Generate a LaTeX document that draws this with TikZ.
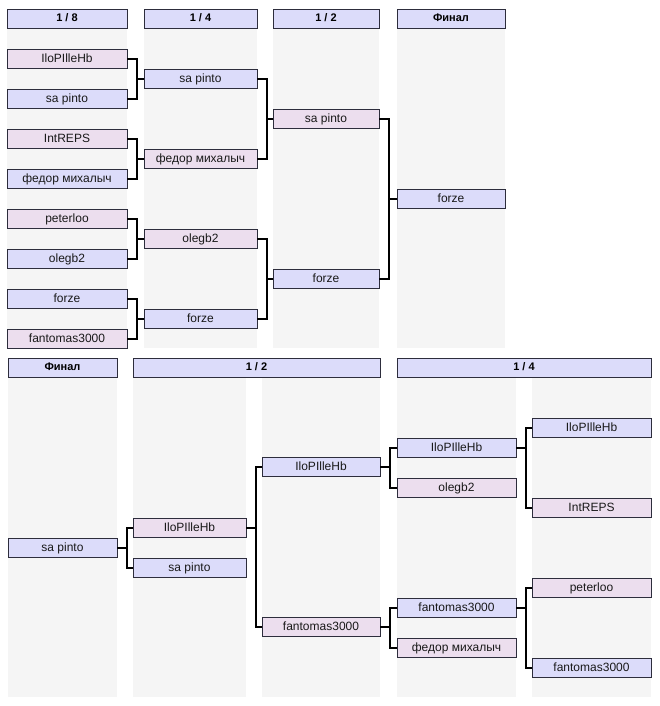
\documentclass[tikz,border=0pt]{standalone}
\usepackage{fontspec}
\setmainfont{Liberation Sans}
\definecolor{boxblue}{RGB}{220,220,250}
\definecolor{boxpink}{RGB}{236,222,238}
\definecolor{colbg}{RGB}{245,245,245}
\definecolor{edge}{RGB}{45,45,60}
\tikzset{
  cell/.style={draw=edge, line width=0.8pt, inner sep=0pt, minimum height=19pt,
    text height=8.6pt, text depth=2.4pt, font=\fontsize{12}{14}\selectfont, text=black!90},
  bbox/.style={cell, fill=boxblue},
  pbox/.style={cell, fill=boxpink},
  hdr/.style={draw=edge, line width=0.8pt, fill=boxblue, inner sep=0pt, minimum height=19pt,
    text height=8pt, text depth=2pt, font=\fontsize{11}{13}\selectfont\bfseries},
  conn/.style={line width=2pt, black},
  bg/.style={fill=colbg, draw=none}
}
\begin{document}
\begin{tikzpicture}[x=1pt,y=-1pt]
\useasboundingbox[fill=white] (0,0) rectangle (659,706);
% ---------- top bracket ----------
% backgrounds
\fill[colbg] (7,28) rectangle (127,348);
\fill[colbg] (144,28) rectangle (257,348);
\fill[colbg] (273,28) rectangle (379,348);
\fill[colbg] (397,28) rectangle (505,348);
% headers
\node[hdr, minimum width=120pt] (h18) at (67,18.5) {1 / 8};
\node[hdr, minimum width=113pt] (h14) at (200.5,18.5) {1 / 4};
\node[hdr, minimum width=106pt] (h12) at (326,18.5) {1 / 2};
\node[hdr, minimum width=108pt] (hf) at (451,18.5) {Финал};
% column 1
\tikzset{c1/.style={minimum width=120pt}}
\node[pbox,c1] (a1) at (67,59) {IloPIlleHb};
\node[bbox,c1] (a2) at (67,99) {sa pinto};
\node[pbox,c1] (a3) at (67,139) {IntREPS};
\node[bbox,c1] (a4) at (67,179) {федор михалыч};
\node[pbox,c1] (a5) at (67,219) {peterloo};
\node[bbox,c1] (a6) at (67,259) {olegb2};
\node[bbox,c1] (a7) at (67,299) {forze};
\node[pbox,c1] (a8) at (67,339) {fantomas3000};
% column 2
\tikzset{c2/.style={minimum width=113pt}}
\node[bbox,c2] (b1) at (200.5,79) {sa pinto};
\node[pbox,c2] (b2) at (200.5,159) {федор михалыч};
\node[pbox,c2] (b3) at (200.5,239) {olegb2};
\node[bbox,c2] (b4) at (200.5,319) {forze};
% column 3
\tikzset{c3/.style={minimum width=106pt}}
\node[pbox,c3] (d1) at (326,119) {sa pinto};
\node[bbox,c3] (d2) at (326,279) {forze};
% column 4
\node[bbox,minimum width=108pt] (e1) at (451,199) {forze};
% connectors
\foreach \p/\w in {a1/b1,a2/b1,a3/b2,a4/b2,a5/b3,a6/b3,a7/b4,a8/b4,b1/d1,b2/d1,b3/d2,b4/d2,d1/e1,d2/e1}
  \draw[conn] (\p.east) -- ++(10,0) |- (\w.west);
% ---------- bottom bracket ----------
\fill[colbg] (8,377) rectangle (117,697);
\fill[colbg] (133,377) rectangle (246,697);
\fill[colbg] (262,377) rectangle (380,697);
\fill[colbg] (397,377) rectangle (516,697);
\fill[colbg] (532,377) rectangle (651,697);
\node[hdr, minimum width=109pt] (gf) at (62.5,367.5) {Финал};
\node[hdr, minimum width=247pt] (g12) at (256.5,367.5) {1 / 2};
\node[hdr, minimum width=254pt] (g14) at (524,367.5) {1 / 4};
% final
\node[bbox,minimum width=109pt] (f1) at (62.5,548) {sa pinto};
% 1/2 A
\tikzset{ca/.style={minimum width=113pt}}
\node[pbox,ca] (s1) at (189.5,528) {IloPIlleHb};
\node[bbox,ca] (s2) at (189.5,568) {sa pinto};
% 1/2 B
\tikzset{cb/.style={minimum width=118pt}}
\node[bbox,cb] (t1) at (321,467) {IloPIlleHb};
\node[pbox,cb] (t2) at (321,627) {fantomas3000};
% 1/4 C
\tikzset{cc/.style={minimum width=119pt}}
\node[bbox,cc] (u1) at (456.5,448) {IloPIlleHb};
\node[pbox,cc] (u2) at (456.5,488) {olegb2};
\node[bbox,cc] (u3) at (456.5,608) {fantomas3000};
\node[pbox,cc] (u4) at (456.5,648) {федор михалыч};
% 1/4 D
\tikzset{cd/.style={minimum width=119pt}}
\node[bbox,cd] (v1) at (591.5,428) {IloPIlleHb};
\node[pbox,cd] (v2) at (591.5,508) {IntREPS};
\node[pbox,cd] (v3) at (591.5,588) {peterloo};
\node[bbox,cd] (v4) at (591.5,668) {fantomas3000};
% connectors
\foreach \w/\c in {f1/s1,f1/s2,s1/t1,s1/t2,t1/u1,t1/u2,t2/u3,t2/u4,u1/v1,u1/v2,u3/v3,u3/v4}
  \draw[conn] (\w.east) -- ++(10,0) |- (\c.west);
\end{tikzpicture}
\end{document}
